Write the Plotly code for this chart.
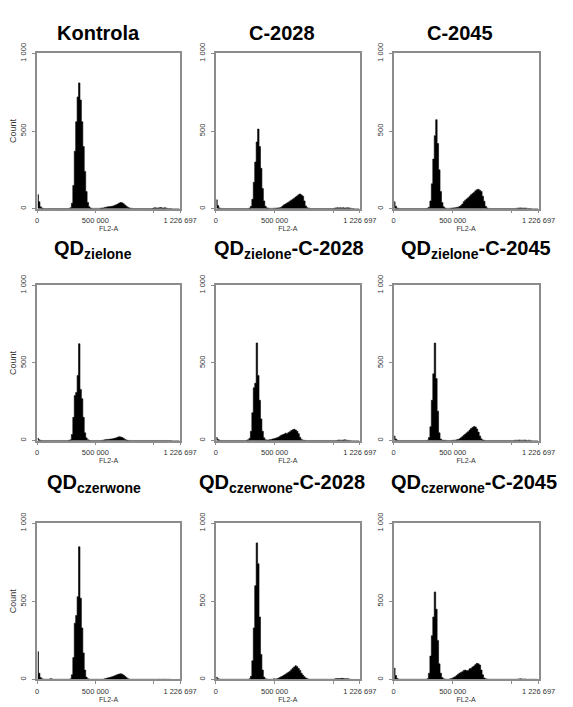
import numpy as np
import plotly.graph_objects as go
from plotly.subplots import make_subplots

# FL2-A histograms, 100 channels of equal width over 0 .. 1 226 697
X_MAX = 1226697
N_BINS = 100

titles = [
    "<b>Kontrola</b>",
    "<b>C-2028</b>",
    "<b>C-2045</b>",
    "<b>QD<sub>zielone</sub></b>",
    "<b>QD<sub>zielone</sub>-C-2028</b>",
    "<b>QD<sub>zielone</sub>-C-2045</b>",
    "<b>QD<sub>czerwone</sub></b>",
    "<b>QD<sub>czerwone</sub>-C-2028</b>",
    "<b>QD<sub>czerwone</sub>-C-2045</b>",
]

kontrola = [
    90, 45, 12, 4, 2, 1, 1, 1, 1, 1,
    1, 1, 1, 1, 1, 1, 1, 1, 1, 1,
    1, 1, 2, 6, 35, 150, 370, 560, 720, 810,
    700, 560, 400, 240, 110, 40, 12, 4, 2, 2,
    2, 2, 2, 2, 3, 4, 5, 8, 10, 12,
    13, 14, 16, 18, 22, 26, 30, 36, 40, 38,
    32, 24, 16, 9, 5, 3, 2, 1, 1, 1,
    1, 1, 1, 1, 1, 1, 1, 1, 1, 1,
    1, 4, 6, 5, 3, 6, 7, 5, 4, 6,
    3, 1, 1, 1, 0, 0, 0, 0, 0, 0]

c2028 = [
    57, 20, 5, 2, 1, 1, 1, 1, 1, 1,
    1, 1, 1, 1, 1, 1, 1, 1, 1, 1,
    1, 1, 2, 4, 15, 60, 170, 300, 430, 513,
    400, 260, 130, 50, 15, 5, 3, 2, 2, 2,
    3, 3, 4, 5, 6, 10, 18, 25, 30, 36,
    42, 48, 55, 60, 68, 75, 82, 90, 95, 88,
    80, 50, 18, 6, 3, 2, 1, 1, 1, 1,
    1, 1, 1, 1, 1, 1, 1, 1, 1, 1,
    1, 1, 3, 5, 6, 5, 6, 5, 6, 4,
    5, 6, 5, 3, 2, 1, 0, 0, 0, 0]

c2045 = [
    45, 15, 4, 2, 1, 1, 1, 1, 1, 1,
    1, 1, 1, 1, 1, 1, 1, 1, 1, 1,
    1, 1, 1, 3, 10, 50, 160, 320, 470, 573,
    420, 250, 110, 40, 12, 4, 2, 2, 2, 3,
    4, 5, 6, 8, 10, 14, 20, 30, 45, 55,
    63, 70, 80, 90, 97, 105, 115, 122, 125, 118,
    111, 80, 48, 15, 5, 2, 1, 1, 1, 1,
    1, 1, 1, 1, 1, 1, 1, 1, 1, 1,
    1, 1, 1, 1, 2, 3, 4, 5, 4, 3,
    4, 3, 2, 1, 1, 0, 0, 0, 0, 0]

qd_ziel = [
    15, 5, 2, 1, 1, 1, 1, 1, 1, 1,
    1, 1, 1, 1, 1, 1, 1, 1, 1, 1,
    1, 1, 2, 5, 40, 150, 290, 310, 420, 624,
    330, 270, 150, 50, 18, 6, 2, 1, 1, 1,
    1, 1, 1, 1, 1, 2, 3, 5, 7, 8,
    9, 10, 11, 13, 15, 18, 22, 25, 24, 20,
    15, 8, 4, 2, 1, 1, 1, 1, 1, 1,
    1, 1, 1, 1, 1, 1, 1, 1, 1, 1,
    1, 1, 1, 1, 1, 1, 1, 1, 1, 1,
    1, 1, 1, 1, 0, 0, 0, 0, 0, 0]

qd_ziel_2028 = [
    20, 8, 3, 1, 1, 1, 1, 1, 1, 1,
    1, 1, 1, 1, 1, 1, 1, 1, 1, 1,
    1, 2, 5, 15, 60, 180, 340, 370, 629, 420,
    260, 140, 60, 18, 6, 3, 4, 6, 8, 10,
    12, 15, 18, 22, 28, 35, 38, 42, 48, 45,
    52, 58, 65, 70, 73, 68, 60, 45, 22, 8,
    3, 2, 1, 1, 1, 1, 1, 1, 1, 1,
    1, 1, 1, 1, 1, 1, 1, 1, 1, 1,
    1, 1, 1, 1, 2, 4, 3, 2, 4, 5,
    3, 2, 1, 1, 0, 0, 0, 0, 0, 0]

qd_ziel_2045 = [
    30, 10, 3, 1, 1, 1, 1, 1, 1, 1,
    1, 1, 1, 1, 1, 1, 1, 1, 1, 1,
    1, 1, 1, 3, 20, 90, 260, 430, 628, 400,
    190, 50, 10, 3, 2, 2, 1, 1, 1, 1,
    2, 2, 3, 5, 8, 12, 18, 26, 35, 42,
    50, 58, 68, 78, 85, 91, 88, 75, 55, 30,
    12, 4, 2, 1, 1, 1, 1, 1, 1, 1,
    1, 1, 1, 1, 1, 1, 1, 1, 1, 1,
    1, 1, 1, 2, 3, 2, 4, 3, 2, 3,
    4, 2, 1, 3, 1, 0, 0, 0, 0, 0]

qd_czer = [
    178, 40, 12, 4, 2, 1, 1, 1, 1, 5,
    3, 1, 1, 1, 1, 1, 1, 1, 1, 1,
    1, 1, 1, 4, 30, 140, 360, 410, 530, 849,
    520, 330, 170, 60, 15, 4, 2, 1, 1, 1,
    1, 1, 1, 1, 1, 1, 2, 4, 7, 10,
    12, 14, 17, 20, 24, 28, 32, 35, 36, 34,
    28, 20, 12, 5, 2, 1, 1, 1, 1, 1,
    1, 1, 1, 1, 1, 1, 1, 1, 1, 1,
    1, 1, 1, 1, 1, 2, 1, 1, 2, 1,
    1, 1, 1, 0, 0, 0, 0, 0, 0, 0]

qd_czer_2028 = [
    15, 5, 2, 1, 1, 1, 1, 1, 1, 1,
    1, 1, 1, 1, 1, 1, 1, 1, 1, 1,
    1, 1, 1, 4, 20, 120, 330, 600, 874, 740,
    400, 160, 60, 15, 4, 2, 1, 1, 1, 1,
    4, 2, 4, 8, 12, 18, 22, 28, 34, 40,
    46, 52, 62, 72, 80, 88, 82, 70, 58, 40,
    28, 18, 10, 5, 2, 1, 1, 1, 1, 1,
    1, 1, 1, 1, 1, 1, 1, 1, 1, 1,
    1, 1, 3, 5, 6, 5, 6, 7, 6, 5,
    4, 5, 3, 1, 0, 0, 0, 0, 0, 0]

qd_czer_2045 = [
    73, 25, 6, 2, 1, 1, 1, 1, 1, 1,
    1, 1, 1, 1, 1, 1, 1, 1, 1, 1,
    1, 1, 1, 5, 40, 150, 280, 400, 560, 450,
    250, 100, 40, 12, 4, 2, 1, 1, 2, 5,
    8, 12, 18, 25, 33, 40, 45, 50, 58, 60,
    55, 58, 68, 72, 80, 86, 95, 103, 100, 92,
    60, 30, 10, 4, 2, 1, 1, 1, 1, 1,
    1, 1, 1, 1, 1, 1, 1, 1, 1, 1,
    1, 1, 1, 1, 1, 2, 3, 4, 3, 2,
    3, 1, 1, 1, 1, 1, 1, 1, 1, 0]

panels = [kontrola, c2028, c2045,
          qd_ziel, qd_ziel_2028, qd_ziel_2045,
          qd_czer, qd_czer_2028, qd_czer_2045]

x_ticks = [0, 500000, X_MAX]
x_ticktext = ["0", "500 000", "1 226 697"]
x_minor = [1000000]
y_ticks = [0, 500, 1000]
y_ticktext = ["0", "500", "1 000"]

# the page body has an 8px margin, so the figure starts 8px in from the
# window edge; it runs on to the window's right and bottom edges
PAGE = 8
W, H = 573 - PAGE, 707 - PAGE
# plot areas in window pixels
col_px = [(36, 184), (221, 370), (405, 555)]
row_px = [(43, 201), (279, 437), (521, 680)]
title_x_px = [[100, 289, 474], [94, 297, 490], [95, 289, 488]]
title_y_px = [22, 243, 481]

bin_w = X_MAX / N_BINS
centers = (np.arange(N_BINS) + 0.5) * bin_w

label_font = dict(family='Liberation Sans', size=7.5, color='#333333')

fig = make_subplots(rows=3, cols=3)

for i, counts in enumerate(panels):
    r, c = i // 3, i % 3
    fig.add_trace(go.Scatter(
        x=centers, y=counts, mode='lines',
        line=dict(shape='hvh', color='black', width=0.6),
        fill='tozeroy', fillcolor='black',
        showlegend=False, hoverinfo='skip'
    ), row=r + 1, col=c + 1)

    x0, x1 = col_px[c]
    y0, y1 = row_px[r]
    fig.update_xaxes(
        domain=[(x0 - PAGE) / W, (x1 - PAGE) / W],
        range=[0, X_MAX], tickvals=x_ticks, ticktext=x_ticktext,
        minor=dict(tickvals=x_minor, ticks='outside', ticklen=3,
                   tickcolor='#8c8c8c', tickwidth=1),
        showgrid=False, zeroline=False,
        showline=True, linecolor='#8c8c8c', linewidth=1.5, mirror=True,
        ticks='outside', ticklen=3, tickcolor='#8c8c8c', tickwidth=1,
        ticklabelstandoff=1,
        tickfont=label_font,
        title=dict(text='FL2-A', standoff=1,
                   font=dict(family='Liberation Sans', size=7, color='#333333')),
        row=r + 1, col=c + 1)
    yaxis_opts = dict(
        domain=[1 - (y1 - PAGE) / H, 1 - (y0 - PAGE) / H],
        range=[0, 1000], tickvals=y_ticks, ticktext=y_ticktext,
        tickangle=-90,
        showgrid=False, zeroline=False,
        showline=True, linecolor='#8c8c8c', linewidth=1.5, mirror=True,
        ticks='outside', ticklen=3, tickcolor='#8c8c8c', tickwidth=1,
        ticklabelstandoff=3,
        tickfont=label_font,
    )
    if c == 0:
        yaxis_opts['title'] = dict(text='Count', standoff=3,
                                   font=dict(family='Liberation Sans', size=9,
                                             color='#333333'))
    fig.update_yaxes(row=r + 1, col=c + 1, **yaxis_opts)

    fig.add_annotation(
        x=(title_x_px[r][c] - PAGE) / W, y=1 - (title_y_px[r] - PAGE) / H,
        xref='paper', yref='paper', xanchor='center', yanchor='middle',
        text=titles[i], showarrow=False,
        font=dict(family='Liberation Sans', size=20, color='black'))

fig.update_layout(
    width=W, height=H,
    margin=dict(l=0, r=0, t=0, b=0),
    paper_bgcolor='white', plot_bgcolor='white',
)

fig.write_html("out.html", config={'displayModeBar': False})
